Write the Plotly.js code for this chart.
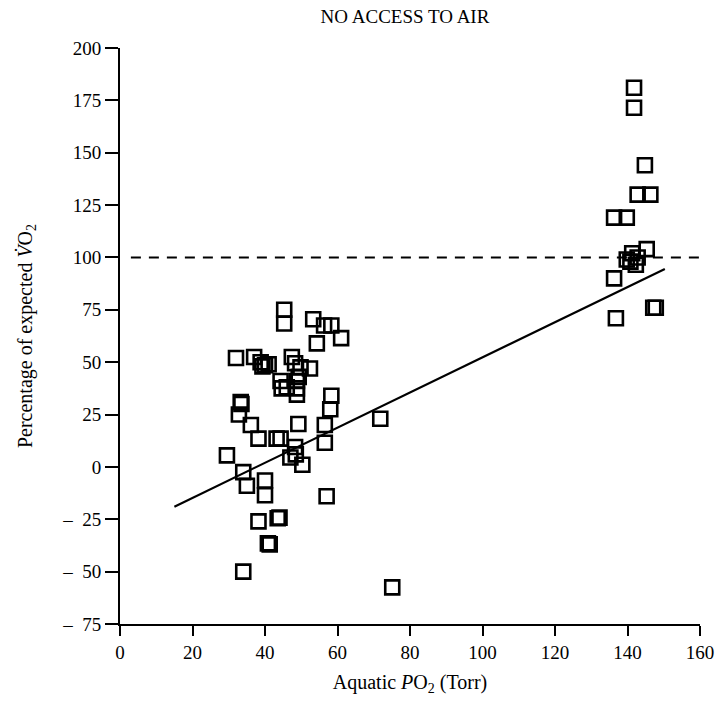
<!DOCTYPE html>
<html>
<head>
<meta charset="utf-8">
<script src="https://cdn.plot.ly/plotly-3.0.1.min.js"></script>
<style>html,body{margin:0;padding:0;background:#fff}#chart{width:717px;height:708px}</style>
</head>
<body>
<div id="chart"></div>
<script>
// Hypoxic cluster (aquatic PO2 < 80 Torr)
const lowPO2 = [45.3,45.3,53.3,56.3,58.3,54.3,61.0,32.0,37.0,38.8,40.0,39.3,41.0,47.4,48.3,49.8,52.4,49.3,44.3,44.6,46.0,48.8,48.8,48.8,58.3,33.3,33.5,32.8,36.1,38.2,43.2,44.3,49.2,58.0,56.5,56.5,48.3,47.0,48.5,50.3,29.5,34.0,35.0,40.0,40.0,57.0,71.8,38.2,43.5,44.0,40.8,41.3,34.0,75.1];
const lowVO2 = [75,68.5,70.5,67.5,67.5,59,61.5,52,52.5,50,48.5,48,49,52.5,49.5,47.5,47,43,41,37.5,38,41,37.5,34.5,34,31,30,25,20,13.5,13.5,13.5,20.5,27.5,20,11.5,9.5,4.5,6,1,5.5,-2.5,-9,-6.5,-13.5,-14,23,-26,-24.5,-24.2,-36.5,-37,-50,-57.5];
// Normoxic cluster (aquatic PO2 ~ 140 Torr)
const highPO2 = [141.8,141.8,144.8,142.8,146.3,136.3,139.8,145.3,141.3,139.8,140.8,142.3,142.8,136.3,136.8,147.1,147.8];
const highVO2 = [181,171.5,144,130,130,119,119,104,102,99,98,96.5,100,90,71,76,76];
// Regression line and 100 % reference line
const fitX = [15, 150.3];
const fitY = [-19, 94.5];
const refX = [3, 160];
const refY = [100, 100];
const yTickVals = [200,175,150,125,100,75,50,25,0,-25,-50,-75];
const yTickText = ['200','175','150','125','100','75','50','25','0','\u2013\u00a0\u00a025','\u2013\u00a0\u00a050','\u2013\u00a0\u00a075'];
const xTickVals = [0,20,40,60,80,100,120,140,160];

const marker = {symbol:'square-open', size:14, color:'#000', line:{color:'#000', width:2.6}};
const traces = [
  {x:refX, y:refY, mode:'lines', line:{color:'#000', width:2, dash:'10px,8px'}, hoverinfo:'skip'},
  {x:fitX, y:fitY, mode:'lines', line:{color:'#000', width:2.2}, hoverinfo:'skip'},
  {x:lowPO2, y:lowVO2, mode:'markers', marker:marker},
  {x:highPO2, y:highVO2, mode:'markers', marker:marker}
];
const fam = '"Liberation Serif", "DejaVu Serif", serif';
const tickFont = {family:fam, size:19, color:'#000'};
const layout = {
  width:717, height:708,
  margin:{l:120, r:17, t:48, b:84},
  paper_bgcolor:'#fff', plot_bgcolor:'#fff',
  showlegend:false,
  font:{family:fam, size:19, color:'#000'},
  title:{text:'NO ACCESS TO AIR', font:{family:fam, size:19, color:'#000'}, x:405/717, xref:'container', xanchor:'center', y:1-16/708, yref:'container', yanchor:'middle'},
  xaxis:{range:[0,160], tickvals:xTickVals, ticks:'outside', ticklen:10, tickwidth:2, tickcolor:'#000',
         showline:true, linewidth:2, linecolor:'#000', showgrid:false, zeroline:false,
         tickfont:tickFont, title:{text:'Aquatic <i>P</i>O<sub>2</sub> (Torr)', font:{family:fam, size:20, color:'#000'}, standoff:13}},
  yaxis:{range:[-75,200], tickvals:yTickVals, ticktext:yTickText, ticks:'outside', ticklen:13, tickwidth:2, tickcolor:'#000',
         showline:true, linewidth:2, linecolor:'#000', showgrid:false, zeroline:false,
         tickfont:tickFont, title:{text:'Percentage of expected <i>V\u0307</i>O<sub>2</sub>', font:{family:fam, size:20, color:'#000'}, standoff:24}}
};
Plotly.newPlot('chart', traces, layout, {displayModeBar:false, staticPlot:true});
</script>
</body>
</html>
